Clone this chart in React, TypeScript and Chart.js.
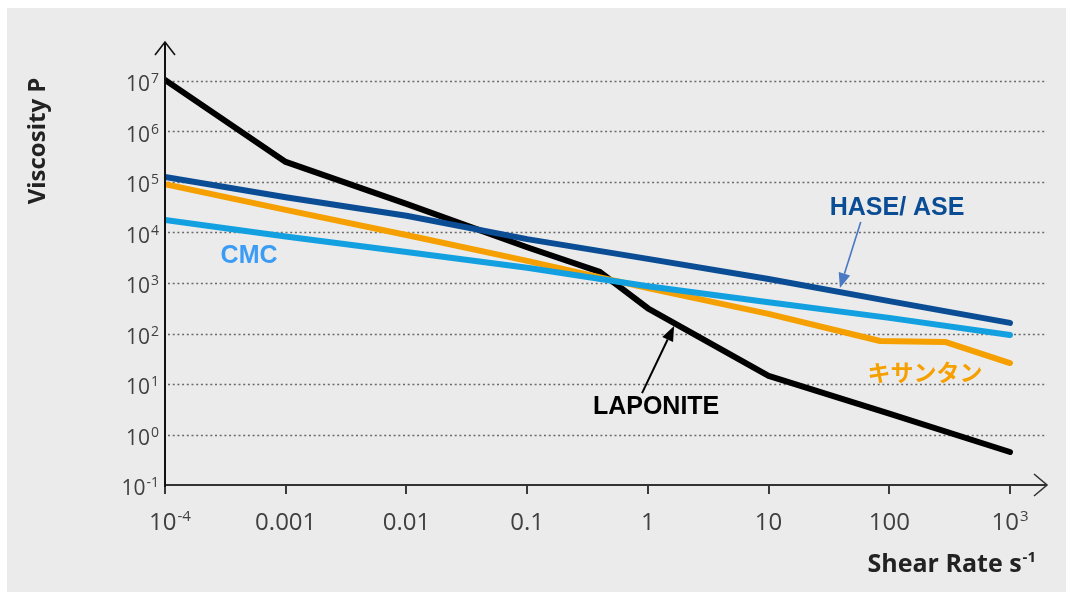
import React, { useEffect, useRef } from "react";
import { Chart, registerables } from "chart.js";

Chart.register(...registerables);

// ---- Axis ticks ----
const xTickValues = [1e-4, 1e-3, 1e-2, 1e-1, 1, 10, 100, 1000];
const xTickBase = ["10", "0.001", "0.01", "0.1", "1", "10", "100", "10"];
const xTickSup = ["-4", "", "", "", "", "", "", "3"];
const yTickValues = [1e-1, 1, 10, 100, 1e3, 1e4, 1e5, 1e6, 1e7];
const yTickSup = ["-1", "0", "1", "2", "3", "4", "5", "6", "7"];

// ---- Series (shear rate s^-1, viscosity P) ----
const laponiteX = [1e-4, 1e-3, 1e-2, 1e-1, 0.4, 1, 10, 100, 1000];
const laponiteY = [1.05e7, 2.5e5, 3.7e4, 5.1e3, 1.66e3, 316, 14.5, 2.6, 0.45];
const haseX = [1e-4, 1e-3, 1e-2, 1e-1, 1, 10, 100, 1000];
const haseY = [1.26e5, 5.0e4, 2.14e4, 7.4e3, 3.0e3, 1.2e3, 437, 162];
const cmcX = [1e-4, 1e-3, 1e-2, 1e-1, 1, 10, 100, 1000];
const cmcY = [1.78e4, 8.3e3, 4.1e3, 2.0e3, 860, 417, 204, 93];
const xanthanX = [1e-4, 1e-3, 1e-2, 1e-1, 1, 10, 84, 290, 1000];
const xanthanY = [9.1e4, 2.8e4, 8.9e3, 2.75e3, 794, 245, 71, 68, 26];

// ---- Labels ----
const yTitle = "Viscosity P";
const xTitle = "Shear Rate s";
const xTitleSup = "-1";
const haseLabel = "HASE/ ASE";
const cmcLabel = "CMC";
const xanthanLabel = "キサンタン";
const laponiteLabel = "LAPONITE";

const COLORS = {
  laponite: "#000000",
  hase: "#0b4d95",
  cmc: "#12a0e0",
  xanthan: "#f5a000",
  cmcText: "#3a9cf4",
  haseArrow: "#4a78c2",
  bg: "#ebebeb",
  grid: "#6a6a6a",
  tick: "#404040",
};

const pts = (xs: number[], ys: number[]) => xs.map((x, i) => ({ x, y: ys[i] }));

function drawSup(
  ctx: CanvasRenderingContext2D,
  base: string,
  sup: string,
  x: number,
  baseline: number,
  baseFont: string,
  supFont: string,
  raise: number,
  align: "left" | "center" | "right"
) {
  ctx.save();
  ctx.textBaseline = "alphabetic";
  ctx.textAlign = "left";
  ctx.font = baseFont;
  const bw = ctx.measureText(base).width;
  ctx.font = supFont;
  const sw = sup ? ctx.measureText(sup).width + 1 : 0;
  const total = bw + sw;
  let sx = x;
  if (align === "center") sx = x - total / 2;
  else if (align === "right") sx = x - total;
  ctx.font = baseFont;
  ctx.fillText(base, sx, baseline);
  if (sup) {
    ctx.font = supFont;
    ctx.fillText(sup, sx + bw + 1, baseline - raise);
  }
  ctx.restore();
}

function arrow(
  ctx: CanvasRenderingContext2D,
  x1: number,
  y1: number,
  x2: number,
  y2: number,
  color: string,
  width: number,
  headLen: number,
  headW: number
) {
  const ang = Math.atan2(y2 - y1, x2 - x1);
  const bx = x2 - headLen * Math.cos(ang);
  const by = y2 - headLen * Math.sin(ang);
  ctx.save();
  ctx.strokeStyle = color;
  ctx.fillStyle = color;
  ctx.lineWidth = width;
  ctx.beginPath();
  ctx.moveTo(x1, y1);
  ctx.lineTo(bx, by);
  ctx.stroke();
  ctx.beginPath();
  ctx.moveTo(x2, y2);
  ctx.lineTo(bx + (headW / 2) * Math.sin(ang), by - (headW / 2) * Math.cos(ang));
  ctx.lineTo(bx - (headW / 2) * Math.sin(ang), by + (headW / 2) * Math.cos(ang));
  ctx.closePath();
  ctx.fill();
  ctx.restore();
}

const decorPlugin = {
  id: "decor",
  beforeDraw(chart: any) {
    const { ctx, width, height } = chart;
    ctx.save();
    ctx.fillStyle = "#ffffff";
    ctx.fillRect(0, 0, width, height);
    ctx.fillStyle = COLORS.bg;
    ctx.fillRect(7, 8, width - 7, height - 8);
    ctx.restore();
  },
  beforeDatasetsDraw(chart: any) {
    const { ctx, chartArea, scales } = chart;
    const y = scales.y;
    ctx.save();
    ctx.strokeStyle = COLORS.grid;
    ctx.lineWidth = 1.5;
    ctx.setLineDash([2, 2.7]);
    yTickValues.forEach((v) => {
      if (v <= 0.1) return;
      const py = Math.round(y.getPixelForValue(v)) + 0.5;
      ctx.beginPath();
      ctx.moveTo(chartArea.left + 3, py);
      ctx.lineTo(chartArea.right + 1, py);
      ctx.stroke();
    });
    ctx.restore();
  },
  afterDatasetsDraw(chart: any) {
    const { ctx, chartArea, scales } = chart;
    const xs = scales.x;
    const ys = scales.y;
    const L = chartArea.left;
    const B = chartArea.bottom;
    const T = chartArea.top;
    const R = chartArea.right;

    ctx.save();
    ctx.lineCap = "butt";
    // x tick marks
    ctx.strokeStyle = "#3a3a3a";
    ctx.lineWidth = 2;
    xTickValues.forEach((v) => {
      const px = Math.round(xs.getPixelForValue(v));
      ctx.beginPath();
      ctx.moveTo(px, B);
      ctx.lineTo(px, B + 9);
      ctx.stroke();
    });
    // x axis
    ctx.strokeStyle = "#333333";
    ctx.lineWidth = 2;
    ctx.beginPath();
    ctx.moveTo(L, B);
    ctx.lineTo(R + 1, B);
    ctx.stroke();
    ctx.lineWidth = 1.6;
    ctx.beginPath();
    ctx.moveTo(R - 12, B - 11);
    ctx.lineTo(R + 1, B);
    ctx.lineTo(R - 12, B + 11);
    ctx.stroke();
    // y axis
    ctx.strokeStyle = "#111111";
    ctx.lineWidth = 2;
    ctx.beginPath();
    ctx.moveTo(L, B + 2);
    ctx.lineTo(L, T);
    ctx.stroke();
    ctx.lineWidth = 1.6;
    ctx.beginPath();
    ctx.moveTo(L - 10, T + 13);
    ctx.lineTo(L, T);
    ctx.lineTo(L + 10, T + 13);
    ctx.stroke();
    ctx.restore();

    // tick labels
    ctx.save();
    ctx.fillStyle = COLORS.tick;
    const tf = '21px "Open Sans"';
    const tfs = '14px "Open Sans"';
    yTickValues.forEach((v, i) => {
      const py = ys.getPixelForValue(v);
      drawSup(ctx, "10", yTickSup[i], L - 6, py + 10, tf, tfs, 8, "right");
    });
    const xf = '24px "Open Sans"';
    const xfs = '15px "Open Sans"';
    xTickValues.forEach((v, i) => {
      const px = xs.getPixelForValue(v) + (i === 0 ? 5 : 0);
      drawSup(ctx, xTickBase[i], xTickSup[i], px, B + 45, xf, xfs, 9, "center");
    });
    ctx.restore();

    // axis titles
    ctx.save();
    ctx.fillStyle = "#222222";
    ctx.font = 'bold 24px "Open Sans"';
    ctx.textAlign = "center";
    ctx.textBaseline = "middle";
    ctx.translate(38, 141);
    ctx.rotate(-Math.PI / 2);
    ctx.fillText(yTitle, 0, 0);
    ctx.restore();
    ctx.save();
    ctx.fillStyle = "#222222";
    drawSup(ctx, xTitle, xTitleSup, 1036, 572, 'bold 25px "Open Sans"', 'bold 15px "Open Sans"', 10, "right");
    ctx.restore();

    // annotations (data coordinates)
    const P = (x: number, y: number) => [xs.getPixelForValue(x), ys.getPixelForValue(y)];
    ctx.save();
    ctx.textAlign = "center";
    ctx.textBaseline = "middle";
    ctx.font = 'bold 25px "Liberation Sans", Arial, sans-serif';
    let p = P(116, 30500);
    ctx.fillStyle = COLORS.hase;
    ctx.fillText(haseLabel, p[0], p[1]);
    p = P(4.97e-4, 3430);
    ctx.fillStyle = COLORS.cmcText;
    ctx.fillText(cmcLabel, p[0], p[1]);
    p = P(1.17, 3.43);
    ctx.fillStyle = "#000000";
    ctx.fillText(laponiteLabel, p[0], p[1]);
    ctx.font = 'bold 23px "Noto Sans CJK JP"';
    p = P(198, 17.3);
    ctx.fillStyle = COLORS.xanthan;
    ctx.fillText(xanthanLabel, p[0], p[1]);
    ctx.restore();

    let a = P(58, 16100);
    let b = P(39, 794);
    arrow(ctx, a[0], a[1], b[0], b[1], COLORS.haseArrow, 1.6, 15, 12);
    a = P(0.895, 6.6);
    b = P(1.65, 141);
    arrow(ctx, a[0], a[1], b[0], b[1], "#000000", 2, 15, 12);
  },
};

export default function App() {
  const ref = useRef<HTMLCanvasElement | null>(null);
  useEffect(() => {
    document.body.style.margin = "0";
    const canvas = ref.current!;
    const mkDs = (label: string, xsA: number[], ysA: number[], color: string) => ({
      label,
      data: pts(xsA, ysA),
      borderColor: color,
      backgroundColor: color,
      borderWidth: 6,
      pointRadius: 0,
      pointHoverRadius: 0,
      fill: false,
      tension: 0,
      borderJoinStyle: "round" as const,
      borderCapStyle: "round" as const,
      clip: { left: 0, top: 5, right: 5, bottom: 5 },
    });
    const chart = new Chart(canvas, {
      type: "line",
      data: {
        datasets: [
          mkDs("CMC", cmcX, cmcY, COLORS.cmc),
          mkDs("キサンタン", xanthanX, xanthanY, COLORS.xanthan),
          mkDs("HASE/ ASE", haseX, haseY, COLORS.hase),
          mkDs("LAPONITE", laponiteX, laponiteY, COLORS.laponite),
        ],
      },
      options: {
        animation: false,
        responsive: false,
        maintainAspectRatio: false,
        devicePixelRatio: 1,
        layout: { padding: { top: 42, right: 20, left: 0, bottom: 0 } },
        plugins: { legend: { display: false }, tooltip: { enabled: false }, title: { display: false } },
        events: [],
        scales: {
          x: {
            type: "logarithmic",
            bounds: "data",
            min: 1e-4,
            max: Math.pow(10, 3 + 36 / 120.71),
            grid: { display: false },
            border: { display: false },
            ticks: { display: false },
            afterBuildTicks: (s: any) => {
              s.ticks = xTickValues.map((v) => ({ value: v }));
            },
            afterFit: (s: any) => {
              s.height = 107;
            },
          },
          y: {
            type: "logarithmic",
            bounds: "data",
            min: 0.1,
            max: Math.pow(10, 7 + 39 / 50.5),
            grid: { display: false },
            border: { display: false },
            ticks: { display: false },
            afterBuildTicks: (s: any) => {
              s.ticks = yTickValues.map((v) => ({ value: v }));
            },
            afterFit: (s: any) => {
              s.width = 165;
            },
          },
        },
      } as any,
      plugins: [decorPlugin],
    });
    return () => chart.destroy();
  }, []);
  return (
    <div style={{ width: 1066, height: 592 }}>
      <canvas ref={ref} width={1066} height={592} style={{ display: "block", width: 1066, height: 592 }} />
    </div>
  );
}
